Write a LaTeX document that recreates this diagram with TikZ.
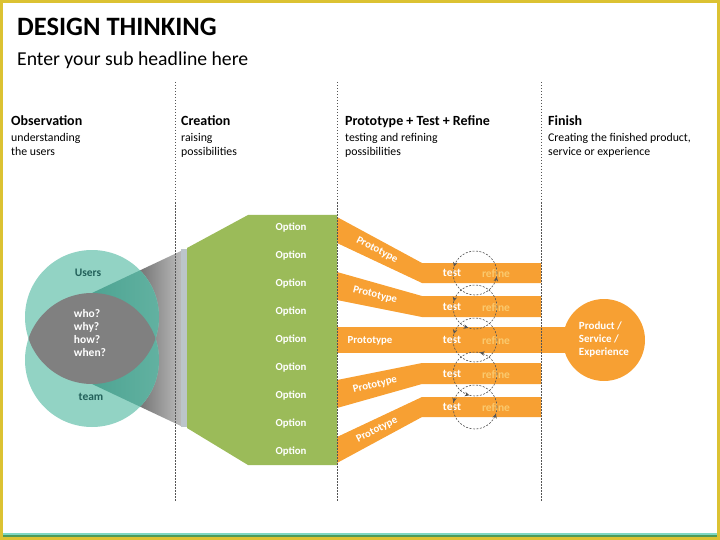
\documentclass[tikz,border=0pt]{standalone}
\usepackage{fontspec}
\setmainfont{Carlito}
\usetikzlibrary{arrows.meta,decorations.markings,positioning}
\definecolor{frameyellow}{HTML}{DCC232}
\definecolor{teallight}{HTML}{92D3C4}
\definecolor{tealdark}{HTML}{3A9684}
\definecolor{tealtext}{HTML}{22605A}
\definecolor{lensgray}{HTML}{808080}
\definecolor{green}{HTML}{9BBB59}
\definecolor{orange}{HTML}{F7A033}
\definecolor{refine}{HTML}{FAC96E}
\definecolor{bandgray}{HTML}{BCC5CA}
\definecolor{muted}{HTML}{555555}
\definecolor{stripe}{HTML}{4E9A5A}
\definecolor{stripelight}{HTML}{7ED8C4}

\begin{document}
\begin{tikzpicture}[x=1pt,y=-1pt, every node/.style={inner sep=0pt},
  head/.style={font=\fontsize{14}{16}\selectfont\bfseries,anchor=base west},
  sub/.style={font=\fontsize{11.8}{14.5}\selectfont,align=left,anchor=north west},
  opt/.style={font=\fontsize{10.8}{12}\selectfont\bfseries,text=white},
  proto/.style={font=\fontsize{10.8}{12}\selectfont\bfseries,text=white},
  tst/.style={font=\fontsize{11.5}{13}\selectfont\bfseries,text=white},
  rfn/.style={font=\fontsize{11.5}{13}\selectfont\bfseries,text=refine},
  band/.style={fill=orange},
  sep/.style={draw=muted,line width=0.5pt,dash pattern=on 1.5pt off 1.5pt},
  cyc/.style={draw=muted,line width=0.6pt,dash pattern=on 2pt off 1.5pt},
  cyctip/.style={postaction={decorate,decoration={markings,mark=at position #1 with {\arrow{Stealth[length=4.5pt,width=4.5pt]}}}}}]
  \useasboundingbox (0,0) rectangle (720,540);
  % frame and bottom stripe
  \fill[stripelight] (3,532.5) rectangle (717,534.5);
  \fill[stripe] (3,534.5) rectangle (717,537);
  \draw[frameyellow,line width=3pt] (1.5,1.5) rectangle (718.5,538.5);

  % titles
  \node[anchor=base west,font=\fontsize{26.5}{30}\selectfont\bfseries] (title) at (17,36) {DESIGN THINKING};
  \node[anchor=base west,font=\fontsize{19.7}{23}\selectfont] (subtitle) at (17,66) {Enter your sub headline here};

  % column heads
  \node[head] (obs) at (11,126) {Observation};
  \node[sub] (obstxt) at (11,131) {understanding\strut\\the users\strut};
  \node[head] (cre) at (181,126) {Creation};
  \node[sub] (cretxt) at (181,131) {raising\strut\\possibilities\strut};
  \node[head] (ptr) at (345,126) {Prototype + Test + Refine};
  \node[sub] (ptrtxt) at (345,131) {testing and refining\strut\\possibilities\strut};
  \node[head] (fin) at (548,126) {Finish};
  \node[sub] (fintxt) at (548,131) {Creating the finished product,\strut\\service or experience\strut};

  % funnel and circles
  \coordinate (usr) at (92,317);
  \coordinate (tm) at (92,360);
  \shade[left color=black!85,right color=black!27] (92,293) -- (181,251) -- (181,426) -- (92,384) -- cycle;
  \fill[bandgray] (181,249) rectangle (187,427);
  \fill[teallight] (usr) circle (67pt) (tm) circle (67pt);
  \begin{scope}
    \clip (92,293) -- (181,251) -- (181,426) -- (92,384) -- cycle;
    \shade[left color=tealdark,right color=tealdark!55!teallight] (usr) circle (67pt) (tm) circle (67pt);
  \end{scope}
  \begin{scope}
    \clip (usr) circle (67pt);
    \fill[lensgray] (tm) circle (67pt);
  \end{scope}
  \node[font=\fontsize{11.5}{13}\selectfont\bfseries,text=tealtext] (users) at (88,273) {Users};
  \node[font=\fontsize{11.5}{13}\selectfont\bfseries,text=tealtext] (team) at (91,397) {team};
  \node[font=\fontsize{11.5}{13.3}\selectfont\bfseries,text=white,align=left] (ask) at (90,333) {who?\\why?\\how?\\when?};

  % options
  \fill[green] (187,248) -- (248,215) -- (337,215) -- (337,465) -- (248,465) -- (187,428) -- cycle;
  \foreach \i in {1,...,9}
    \node[opt] (opt\i) at (291,200+28*\i) {Option};

  % prototype bands
  \fill[band] (337,217) -- (422,263) -- (541,263) -- (541,283) -- (422,283) -- (337,243) -- cycle;
  \fill[band] (337,272) -- (422,296) -- (541,296) -- (541,317) -- (422,317) -- (337,300) -- cycle;
  \fill[band] (337,327) rectangle (580,353);
  \fill[band] (337,408) -- (422,384) -- (541,384) -- (541,363) -- (422,363) -- (337,380) -- cycle;
  \fill[band] (337,463) -- (422,417) -- (541,417) -- (541,397) -- (422,397) -- (337,437) -- cycle;
  \node[proto,rotate=-27] (p1) at (377,250) {Prototype};
  \node[proto,rotate=-13.6] (p2) at (375,295) {Prototype};
  \node[proto] (p3) at (370,341) {Prototype};
  \node[proto,rotate=13.6] (p4) at (375,385) {Prototype};
  \node[proto,rotate=27] (p5) at (377,430) {Prototype};

  % finish
  \node[circle,fill=orange,minimum size=82pt,align=left,font=\fontsize{11}{13}\selectfont\bfseries,text=white] (prod) at (604,340) {Product /\\Service /\\Experience};

  % test / refine loops
  \foreach \y [count=\k] in {273,307,340,374,407} {
    \node[tst] (test\k) at (452,\y) {test};
    \node[rfn] (ref\k) at (496,\y) {refine};
    \coordinate (cyc\k) at (475,\y);
  }
  \draw[cyc,cyctip=0.453,cyctip=0.972] (cyc1) circle (22pt);
  \draw[cyc,cyctip=0.458,cyctip=0.70] (cyc2) circle (22pt);
  \draw[cyc,cyctip=0.455] (cyc3) circle (22pt);
  \draw[cyc,cyctip=0.214,cyctip=0.708] (cyc4) circle (22pt);
  \draw[cyc,cyctip=0.465,cyctip=0.95] (cyc5) circle (22pt);

  % column separators
  \foreach \x in {175,337,541}
    \draw[sep] (\x,82) -- (\x,502);
\end{tikzpicture}
\end{document}
